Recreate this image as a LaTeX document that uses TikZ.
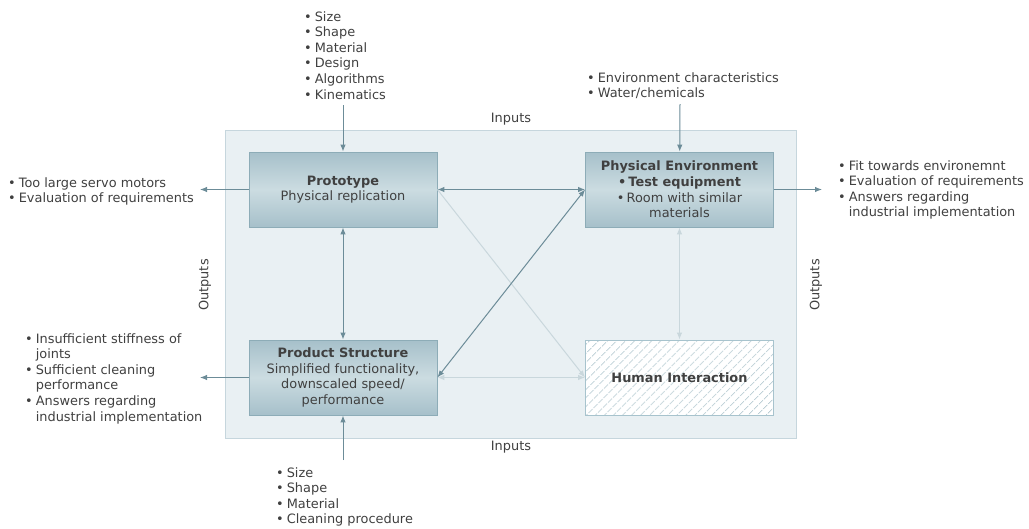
\documentclass[tikz,border=0pt]{standalone}
\usepackage{fontspec}
\setmainfont{DejaVu Sans}
\usetikzlibrary{shapes,arrows.meta,patterns.meta}

\definecolor{txtgray}{HTML}{404040}
\definecolor{framefill}{HTML}{E9F0F3}
\definecolor{frameline}{HTML}{C6D6DD}
\definecolor{boxdark}{HTML}{A6C0CA}
\definecolor{boxlight}{HTML}{CCDCE1}
\definecolor{boxline}{HTML}{8DACB7}
\definecolor{arrowcol}{HTML}{6C8C98}
\definecolor{faintcol}{HTML}{C9D7DC}
\definecolor{hatchcol}{HTML}{B9CDD4}
\definecolor{hatchline}{HTML}{A7C3CD}

\newcommand{\blt}{\textbullet}

\begin{document}
\begin{tikzpicture}[x=1pt,y=-1pt]
    \tikzstyle{every node}=[font=\fontsize{12.9}{15.6}\selectfont, text=txtgray]
    \tikzstyle{block}=[rectangle, draw=boxline, line width=0.8pt, top color=boxdark, bottom color=boxdark, middle color=boxlight, minimum width=188, minimum height=75, align=center, inner sep=0pt]
    \tikzstyle{hatched}=[rectangle, draw=hatchline, line width=0.8pt, preaction={fill=white}, pattern={Lines[angle=45,distance=6.5pt,line width=0.9pt]}, pattern color=hatchcol, minimum width=188, minimum height=75, align=center, inner sep=0pt]
    \tikzstyle{list}=[anchor=base west, inner sep=0pt]
    \tikzstyle{feed}=[draw=arrowcol, line width=1pt, -{Latex[length=7pt,width=5.5pt]}]
    \tikzstyle{link}=[draw=arrowcol, line width=1pt, {Latex[length=7pt,width=5.5pt]}-{Latex[length=7pt,width=5.5pt]}]
    \tikzstyle{faint}=[draw=faintcol, line width=1pt]
    \useasboundingbox (0,0) rectangle (1029,528);

    % frame
    \node[rectangle, draw=frameline, fill=framefill, line width=0.8pt, minimum width=571, minimum height=308, inner sep=0pt] (frame) at (510.5,284) {};
    \node (inTop) at (511,119) {Inputs};
    \node (inBot) at (511,447) {Inputs};
    \node[rotate=90] (outLeft) at (205,285) {Outputs};
    \node[rotate=90] (outRight) at (816,285) {Outputs};

    % blocks
    \node[block] (proto) at (343,189.5) {\textbf{Prototype}\\Physical replication};
    \node[block] (env) at (679.5,189.5) {\textbf{Physical Environment}\\\textbf{\blt\,Test equipment}\\\blt\,Room with similar\\materials};
    \node[block] (prod) at (343,377.5) {\textbf{Product Structure}\\Simplified functionality,\\downscaled speed/\\performance};
    \node[hatched] (human) at (679.5,377.5) {\textbf{Human Interaction}};

    % lists
    \node[list] (protoList) at (304,21) {\begin{tabular}[t]{@{}l@{\hspace{3pt}}l@{}}
      \blt & Size\\ \blt & Shape\\ \blt & Material\\ \blt & Design\\ \blt & Algorithms\\ \blt & Kinematics
    \end{tabular}};
    \node[list] (envList) at (587,82) {\begin{tabular}[t]{@{}l@{\hspace{3pt}}l@{}}
      \blt & Environment characteristics\\ \blt & Water/chemicals
    \end{tabular}};
    \node[list] (protoOutList) at (8,187) {\begin{tabular}[t]{@{}l@{\hspace{3pt}}l@{}}
      \blt & Too large servo motors\\ \blt & Evaluation of requirements
    \end{tabular}};
    \node[list] (envOutList) at (838,170) {\begin{tabular}[t]{@{}l@{\hspace{3pt}}l@{}}
      \blt & Fit towards environemnt\\ \blt & Evaluation of requirements\\ \blt & Answers regarding\\ & industrial implementation
    \end{tabular}};
    \node[list] (prodOutList) at (25,343) {\begin{tabular}[t]{@{}l@{\hspace{3pt}}l@{}}
      \blt & Insufficient stiffness of\\ & joints\\ \blt & Sufficient cleaning\\ & performance\\ \blt & Answers regarding\\ & industrial implementation
    \end{tabular}};
    \node[list] (prodList) at (276,477) {\begin{tabular}[t]{@{}l@{\hspace{3pt}}l@{}}
      \blt & Size\\ \blt & Shape\\ \blt & Material\\ \blt & Cleaning procedure
    \end{tabular}};

    % loose ends
    \coordinate (protoIn) at (343,105);
    \coordinate (envIn) at (680,104);
    \coordinate (prodIn) at (343,460);
    \coordinate (protoOut) at (200,189.5);
    \coordinate (envOut) at (822,189.5);
    \coordinate (prodOut) at (200,377.5);

    % inputs and outputs
    \draw[feed] (protoIn) -- (proto);
    \draw[feed] (envIn) -- (env);
    \draw[feed] (prodIn) -- (prod);
    \draw[feed] (proto.west) -- (protoOut);
    \draw[feed] (env.east) -- (envOut);
    \draw[feed] (prod.west) -- (prodOut);

    % links
    \draw[faint, -{Latex[length=7pt,width=5.5pt]}] (proto.east) -- (human.west);
    \draw[faint, {Latex[length=7pt,width=5.5pt]}-{Latex[length=7pt,width=5.5pt]}] (prod.east) -- (human.west);
    \draw[faint, {Latex[length=7pt,width=5.5pt]}-{Latex[length=7pt,width=5.5pt]}] (env) -- (human);
    \draw[link] (proto) -- (env);
    \draw[link] (proto) -- (prod);
    \draw[link] (env.west) -- (prod.east);
\end{tikzpicture}
\end{document}
